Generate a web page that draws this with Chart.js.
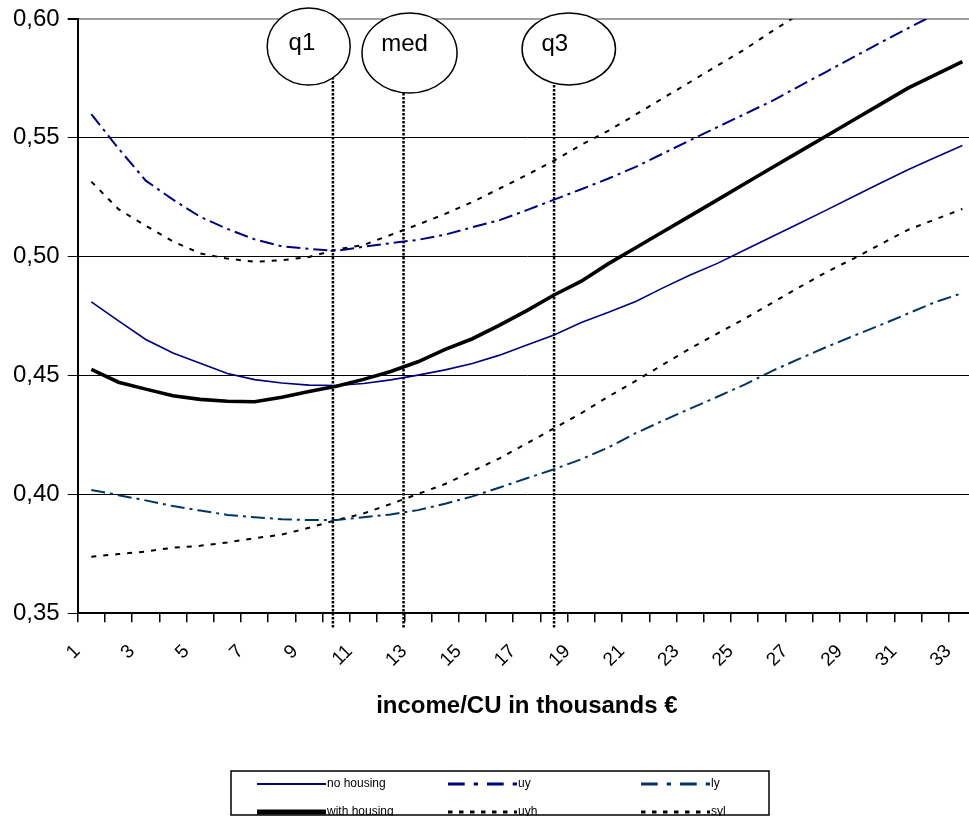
<!DOCTYPE html>
<html>
<head>
<meta charset="utf-8">
<script src="https://cdn.jsdelivr.net/npm/chart.js@4/dist/chart.umd.min.js"></script>
<style>
html,body{margin:0;padding:0;background:#fff;overflow:hidden;}
#wrap{position:relative;width:976px;height:816px;}
canvas{display:block;}
</style>
</head>
<body>
<div id="wrap"><canvas id="c" width="976" height="816"></canvas></div>
<script>
// ---------- data ----------
const categories = ['1','2','3','4','5','6','7','8','9','10','11','12','13','14','15','16','17','18','19','20','21','22','23','24','25','26','27','28','29','30','31','32','33'];
const noHousing   = [0.4810,0.4730,0.4652,0.4595,0.4552,0.4509,0.4483,0.4469,0.4460,0.4458,0.4467,0.4482,0.4502,0.4524,0.4551,0.4586,0.4629,0.4671,0.4723,0.4766,0.4812,0.4869,0.4923,0.4972,0.5028,0.5084,0.5140,0.5196,0.5253,0.5310,0.5366,0.5417,0.5468];
const withHousing = [0.4526,0.4472,0.4443,0.4415,0.4400,0.4392,0.4390,0.4409,0.4433,0.4455,0.4484,0.4517,0.4558,0.4610,0.4655,0.4712,0.4773,0.4839,0.4897,0.4971,0.5038,0.5105,0.5172,0.5239,0.5307,0.5374,0.5441,0.5508,0.5575,0.5642,0.5709,0.5765,0.5821];
const uy          = [0.5600,0.5455,0.5320,0.5240,0.5168,0.5117,0.5073,0.5044,0.5033,0.5025,0.5042,0.5057,0.5071,0.5093,0.5124,0.5154,0.5196,0.5240,0.5284,0.5329,0.5378,0.5434,0.5490,0.5545,0.5600,0.5655,0.5717,0.5778,0.5840,0.5901,0.5961,0.6020,0.6080];
const uyh         = [0.5316,0.5200,0.5130,0.5064,0.5014,0.4992,0.4979,0.4985,0.4999,0.5030,0.5049,0.5092,0.5135,0.5180,0.5230,0.5287,0.5344,0.5404,0.5471,0.5530,0.5598,0.5667,0.5735,0.5804,0.5872,0.5948,0.6020,0.6090,0.6160,0.6230,0.6300,0.6370,0.6440];
const ly          = [0.4019,0.3997,0.3975,0.3951,0.3932,0.3914,0.3904,0.3896,0.3892,0.3892,0.3904,0.3916,0.3934,0.3961,0.3992,0.4029,0.4068,0.4106,0.4148,0.4198,0.4258,0.4310,0.4361,0.4411,0.4462,0.4519,0.4570,0.4620,0.4667,0.4713,0.4761,0.4809,0.4847];
const syl         = [0.3738,0.3749,0.3760,0.3776,0.3784,0.3798,0.3816,0.3831,0.3860,0.3892,0.3920,0.3960,0.4002,0.4044,0.4098,0.4152,0.4215,0.4278,0.4342,0.4412,0.4478,0.4546,0.4614,0.4677,0.4739,0.4805,0.4871,0.4935,0.4992,0.5053,0.5113,0.5157,0.5201];
const seriesNames = ['no housing','uy','ly','with housing','uyh','syl'];
const quantileNames  = ['q1','med','q3'];
const quantileValues = [9.875, 12.47, 18.0];
const quantileRange  = [0.344, 0.60];
const yMin = 0.35, yMax = 0.60, yStep = 0.05;
const xAxisTitle = 'income/CU in thousands €';

// ---------- styles ----------
const FONT = "'Liberation Sans', Arial, sans-serif";
const seriesStyle = {
  'no housing':   {color:'#000080', width:1.6, dash:[],          lw:2, ldash:[]},
  'uy':           {color:'#000080', width:2,   dash:[14,5,3,5],  lw:3, ldash:[16.7,9,4.3,9]},
  'ly':           {color:'#003366', width:2,   dash:[14,5,3,5],  lw:3, ldash:[16.7,9,4.3,9]},
  'with housing': {color:'#000000', width:3.6, dash:[],          lw:5, ldash:[]},
  'uyh':          {color:'#000000', width:2,   dash:[5,7],       lw:3, ldash:[4.5,6.5]},
  'syl':          {color:'#000000', width:2,   dash:[5,7],       lw:3, ldash:[4.5,6.5]}
};
const seriesValues = {'no housing':noHousing,'uy':uy,'ly':ly,'with housing':withHousing,'uyh':uyh,'syl':syl};
const calloutStyle = [
  {dx:-24.2, cy:46.5, rx:41.5, ry:38.5, tdx:-31, ty:43},
  {dx:6,     cy:53,   rx:47.5, ry:40,   tdx:1,   ty:44},
  {dx:14.7,  cy:49,   rx:46.7, ry:36,   tdx:0.7, ty:44}
];
const legendStyle = {left:231, top:771, right:769, bottom:815, rows:[784,812], cols:[257,448,641], sample:69, font:"12px 'Liberation Sans', Arial, sans-serif"};

function toPoints(vals){ return vals.map((v,i)=>({x:Number(categories[i]), y:v})); }

const datasets = seriesNames.map(name => {
  const s = seriesStyle[name];
  return {
    label:name, data:toPoints(seriesValues[name]),
    borderColor:s.color, backgroundColor:s.color, borderWidth:s.width, borderDash:s.dash,
    pointRadius:0, tension:0, fill:false, xAxisID:'xl', yAxisID:'y',
    order: name === 'with housing' ? -1 : 0,
    legendWidth:s.lw, legendDash:s.ldash
  };
});
quantileValues.forEach((q,k) => {
  datasets.push({
    label:quantileNames[k], quantile:true,
    data:[{x:q, y:quantileRange[0]}, {x:q, y:quantileRange[1]}],
    borderColor:'#000', borderWidth:2.5, borderDash:[2.5,1.5], pointRadius:0,
    xAxisID:'xl', yAxisID:'y', clip:false, order:5
  });
});

const calloutPlugin = {
  id:'callouts',
  afterDatasetsDraw(chart){
    const ctx = chart.ctx, xs = chart.scales.xl;
    ctx.save();
    quantileValues.forEach((q,k) => {
      const px = xs.getPixelForValue(q), s = calloutStyle[k];
      ctx.beginPath();
      ctx.ellipse(px + s.dx, s.cy, s.rx, s.ry, 0, 0, Math.PI*2);
      ctx.fillStyle = '#fff'; ctx.fill();
      ctx.lineWidth = 1.5; ctx.strokeStyle = '#000'; ctx.setLineDash([]); ctx.stroke();
      ctx.fillStyle = '#000';
      ctx.font = "24px " + FONT;
      ctx.textAlign = 'center'; ctx.textBaseline = 'middle';
      ctx.fillText(quantileNames[k], px + s.tdx, s.ty);
    });
    ctx.restore();
  }
};

const legendPlugin = {
  id:'boxLegend',
  afterDraw(chart){
    const ctx = chart.ctx, L = legendStyle;
    ctx.save();
    ctx.fillStyle = '#fff';
    ctx.fillRect(L.left, L.top, L.right - L.left, L.bottom - L.top);
    ctx.lineWidth = 1.5; ctx.strokeStyle = '#000'; ctx.setLineDash([]);
    ctx.strokeRect(L.left, L.top, L.right - L.left, L.bottom - L.top);
    const items = chart.data.datasets.filter(d => !d.quantile);
    items.forEach((d,k) => {
      const row = Math.floor(k/3), col = k % 3;
      const x = L.cols[col], y = L.rows[row];
      ctx.beginPath();
      ctx.lineWidth = d.legendWidth; ctx.strokeStyle = d.borderColor;
      ctx.setLineDash(d.legendDash); ctx.lineCap = 'butt';
      ctx.moveTo(x, y); ctx.lineTo(x + L.sample, y); ctx.stroke();
      ctx.setLineDash([]);
      ctx.fillStyle = '#000'; ctx.font = L.font;
      ctx.textAlign = 'left'; ctx.textBaseline = 'middle';
      ctx.fillText(d.label, x + L.sample + 1, y);
    });
    ctx.restore();
  }
};

const isTop = v => Math.abs(v - yMax) < 1e-9;

new Chart(document.getElementById('c'), {
  type:'line',
  data:{ datasets },
  plugins:[calloutPlugin, legendPlugin],
  options:{
    responsive:false, animation:false, devicePixelRatio:1,
    layout:{ padding:{top:19, left:0, right:0, bottom:0} },
    plugins:{ legend:{display:false}, tooltip:{enabled:false}, title:{display:false} },
    scales:{
      xl:{ type:'linear', display:false, min:0.5, max:33.5 },
      x:{
        type:'category', labels:categories, offset:true, position:'bottom',
        grid:{ offset:true, drawOnChartArea:false, drawTicks:true, tickLength:9, color:'#000', lineWidth:1.5 },
        border:{ display:true, color:'#000', width:2 },
        ticks:{
          autoSkip:false, minRotation:45, maxRotation:45, padding:18, labelOffset:-14,
          color:'#000', font:{family:FONT, size:19},
          callback:(v,i) => i % 2 === 0 ? categories[i] : ''
        },
        title:{ display:true, text:xAxisTitle, color:'#000', font:{family:FONT, size:24, weight:'bold'}, padding:{top:0, bottom:95.6} },
        afterFit(scale){ scale.height = 816 - 613.3; scale.paddingLeft = 0; scale.paddingRight = 0; }
      },
      y:{
        type:'linear', min:yMin, max:yMax,
        grid:{
          color:c => isTop(c.tick.value) ? '#a0a0a0' : '#000',
          lineWidth:c => isTop(c.tick.value) ? 2 : 1,
          tickColor:'#000', tickLength:10, drawTicks:true
        },
        border:{ display:true, color:'#000', width:2 },
        ticks:{
          stepSize:yStep, padding:8, color:'#000', font:{family:FONT, size:24},
          callback:v => v.toFixed(2).replace('.', ',')
        },
        afterFit(scale){ scale.width = 77.7; scale.paddingTop = 0; scale.paddingBottom = 0; }
      }
    }
  }
});
</script>
</body>
</html>
